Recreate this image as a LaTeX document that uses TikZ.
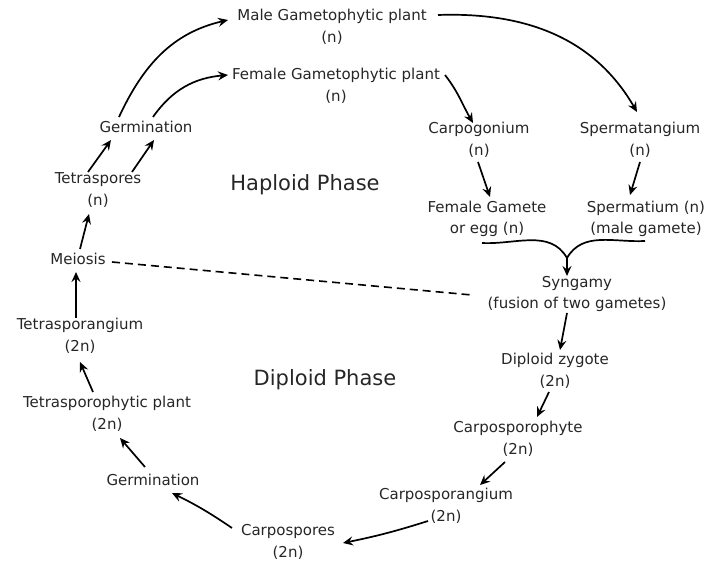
\documentclass[tikz,border=0pt]{standalone}
\usepackage{fontspec}
\setmainfont{DejaVu Sans}
\usetikzlibrary{arrows.meta}

\begin{document}
\begin{tikzpicture}[x=1pt,y=1pt]
    \tikzstyle{every node}+=[inner sep=0pt, align=center, text=black!85, font=\fontsize{15}{21.5}\selectfont]
    \tikzstyle{arr}=[black, line width=1.7pt, -{Stealth[length=10pt,width=9pt,inset=3.5pt]}]
    \tikzstyle{phase}=[font=\fontsize{21}{24}\selectfont]
    \useasboundingbox (0,0) rectangle (707,-561);
    \node (male) at (332,-27) {Male Gametophytic plant\\(n)};
    \node (female) at (336,-86) {Female Gametophytic plant\\(n)};
    \node (germa) at (146,-127) {Germination};
    \node (tetras) at (98,-190) {Tetraspores\\(n)};
    \node (meiosis) at (78,-259) {Meiosis};
    \node [phase] (haploid) at (305,-185) {Haploid Phase};
    \node (carpog) at (479,-140) {Carpogonium\\(n)};
    \node (sperma) at (640,-140) {Spermatangium\\(n)};
    \node (fgam) at (487,-219) {Female Gamete\\or egg (n)};
    \node (sperm) at (646,-219) {Spermatium (n)\\(male gamete)};
    \node (syn) at (577,-294) {Syngamy\\(fusion of two gametes)};
    \node (tsang) at (80,-336) {Tetrasporangium\\(2n)};
    \node (zyg) at (555,-371) {Diploid zygote\\(2n)};
    \node [phase] (diploid) at (325,-380) {Diploid Phase};
    \node (tsplant) at (107,-414) {Tetrasporophytic plant\\(2n)};
    \node (cphyte) at (518,-439) {Carposporophyte\\(2n)};
    \node (germb) at (153,-480) {Germination};
    \node (cang) at (446,-506) {Carposporangium\\(2n)};
    \node (cspores) at (288,-542) {Carpospores\\(2n)};
    \coordinate (fuse) at (567,-258);
    \draw [arr] ([shift={(-4,18)}]tsang.center) -- ([shift={(-2,-13)}]meiosis.center);
    \draw [arr] ([shift={(2,10)}]meiosis.center) -- ([shift={(-9,-24)}]tetras.center);
    \draw [arr] ([shift={(-10,18)}]tetras.center) -- ([shift={(-35,-13)}]germa.center);
    \draw [arr] ([shift={(34,18)}]tetras.center) -- ([shift={(8,-13)}]germa.center);
    \draw [arr] ([shift={(-27,10)}]germa.center) to [out=65,in=193] ([shift={(-104,7)}]male.center);
    \draw [arr] ([shift={(7,10)}]germa.center) to [out=55,in=185] ([shift={(-108,11)}]female.center);
    \draw [arr] ([shift={(106,12)}]male.center) to [out=2,in=120] ([shift={(-3,28)}]sperma.center);
    \draw [arr] ([shift={(109,11)}]female.center) to [out=-52,in=120] ([shift={(-6,17)}]carpog.center);
    \draw [arr] ([shift={(-1,-22)}]carpog.center) -- ([shift={(3,22)}]fgam.center);
    \draw [arr] ([shift={(0,-22)}]sperma.center) -- ([shift={(-16,24)}]sperm.center);
    \draw [black, line width=1.7pt] ([shift={(-5,-24)}]fgam.center) to [out=-3,in=120] (fuse) to [out=60,in=183] ([shift={(-1,-22)}]sperm.center);
    \draw [arr] (fuse) -- ([shift={(-10,18)}]syn.center);
    \draw [arr] ([shift={(-10,-19)}]syn.center) -- ([shift={(5,21)}]zyg.center);
    \draw [arr] ([shift={(-6,-21)}]zyg.center) -- ([shift={(19,22)}]cphyte.center);
    \draw [arr] ([shift={(-13,-23)}]cphyte.center) -- ([shift={(34,21)}]cang.center);
    \draw [arr] ([shift={(-18,-15)}]cang.center) to [bend left=3] ([shift={(55,-1)}]cspores.center);
    \draw [arr] ([shift={(-56,14)}]cspores.center) to [bend right=4] ([shift={(19,-13)}]germb.center);
    \draw [arr] ([shift={(-8,13)}]germb.center) -- ([shift={(13,-24)}]tsplant.center);
    \draw [arr] ([shift={(-14,22)}]tsplant.center) -- ([shift={(0,-26)}]tsang.center);
    \draw [black, line width=1.6pt, dash pattern=on 8pt off 5pt] ([shift={(34,-3)}]meiosis.center) -- ([shift={(-105,-1)}]syn.center);
\end{tikzpicture}
\end{document}
